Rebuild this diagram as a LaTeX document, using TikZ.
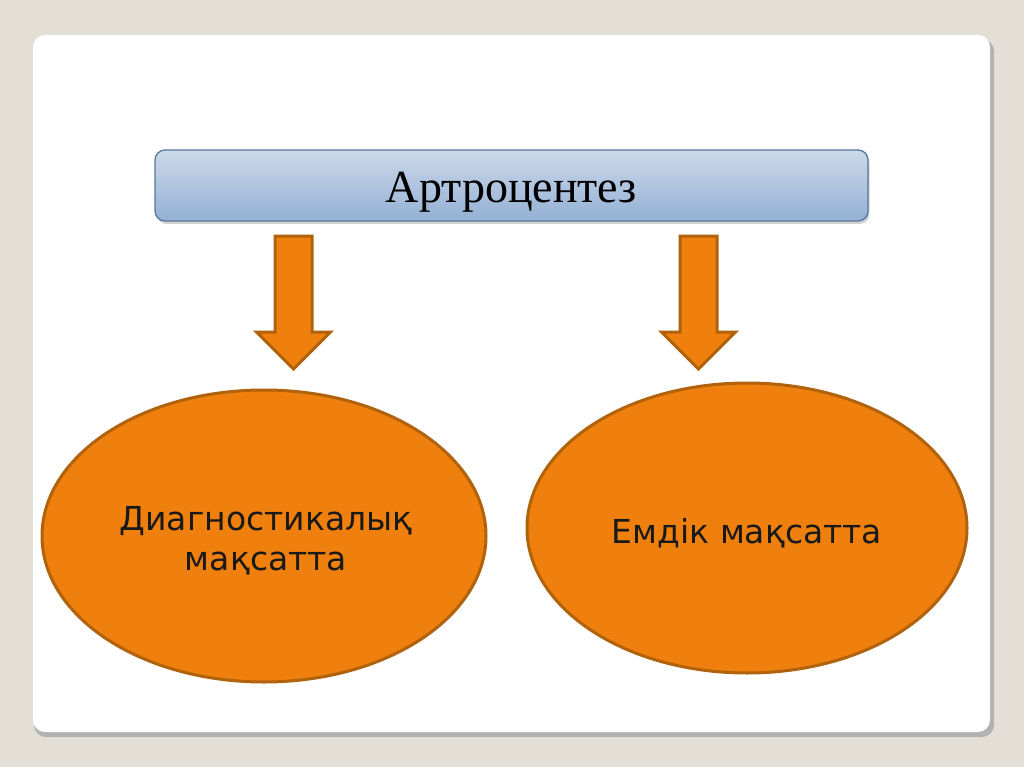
\documentclass[tikz,border=0pt]{standalone}
\usepackage{fontspec}
\setmainfont{Liberation Serif}
\newfontfamily\djv{DejaVu Sans}
\usetikzlibrary{shapes.geometric,shadows,calc}
\definecolor{bgbeige}{HTML}{E4DFD6}
\definecolor{orfill}{HTML}{F0800E}
\definecolor{ordraw}{HTML}{B0620C}
\definecolor{bluetop}{HTML}{CCD9EA}
\definecolor{bluebot}{HTML}{94B0D4}
\definecolor{bluedraw}{HTML}{56779C}
\tikzset{
  oval/.style={ellipse, fill=orfill, draw=ordraw, line width=3pt, align=center, inner sep=0pt},
  ovaltext/.style={font=\djv\fontsize{33}{40}\selectfont, align=center, text=black!90},
  downarrow/.style={fill=orfill, draw=ordraw, line width=3pt, line join=miter},
  titlebox/.style={rounded corners=10pt, draw=bluedraw, line width=1.3pt, top color=bluetop, bottom color=bluebot, drop shadow={shadow xshift=1.5pt, shadow yshift=-3pt, opacity=0.35}}
}
\begin{document}
\begin{tikzpicture}[x=1pt,y=-1pt]
\useasboundingbox (0,0) rectangle (1024,767);
\fill[bgbeige] (0,0) rectangle (1024,767);
% panel shadow
\fill[black!30, rounded corners=12pt] (34,39) rectangle (994,737);
\fill[white, rounded corners=12pt] (33,35) rectangle (990,732);
% title
\node[titlebox, minimum width=713pt, minimum height=71pt, anchor=center] (title) at (511.5,185.5) {};
\node[font=\fontsize{46}{52}\selectfont] (titletext) at (511.5,192) {Артроцентез};
% ellipses
\node[oval, minimum width=444pt, minimum height=292pt] (left) at (264,536) {};
\node[ovaltext] (lefttext) at (266,541) {Диагностикалық\\мақсатта};
\node[oval, minimum width=440pt, minimum height=290pt] (right) at (747,528) {};
\node[ovaltext] (righttext) at (747,533) {Емдік мақсатта};
% arrows
\coordinate (la) at (293.5,236);
\coordinate (ra) at (698.5,236);
\foreach \c in {la,ra}{
  \draw[downarrow] ($(\c)+(-18.5,0)$) -- ($(\c)+(18.5,0)$) -- ($(\c)+(18.5,96)$) -- ($(\c)+(37,96)$) -- ($(\c)+(0,133)$) -- ($(\c)+(-37,96)$) -- ($(\c)+(-18.5,96)$) -- cycle;
}
\end{tikzpicture}
\end{document}
